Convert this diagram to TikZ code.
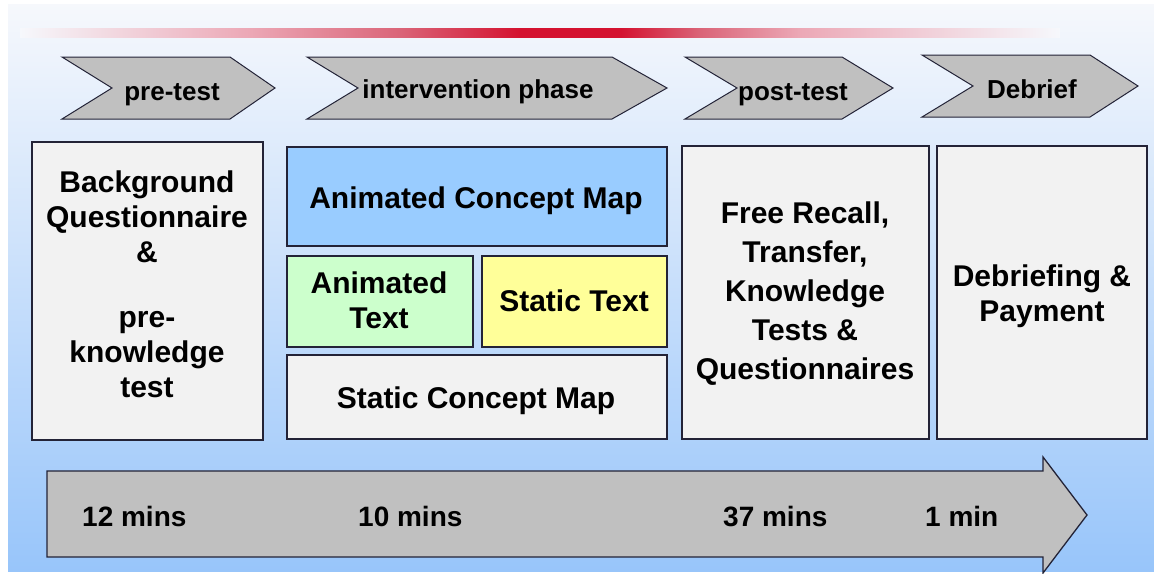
\documentclass[tikz,border=0pt]{standalone}
\usepackage{fontspec}
\setmainfont{Liberation Sans}
\definecolor{linecol}{RGB}{35,35,55}
\definecolor{chevgray}{RGB}{192,192,192}
\definecolor{boxgray}{RGB}{242,242,242}
\definecolor{mapblue}{RGB}{153,204,255}
\definecolor{textgreen}{RGB}{204,255,204}
\definecolor{textyellow}{RGB}{255,255,153}
\definecolor{bgtop}{RGB}{246,248,252}
\definecolor{bgmid}{RGB}{224,235,250}
\definecolor{bgbot}{RGB}{152,197,250}
\definecolor{barred}{RGB}{212,18,48}
\definecolor{barrose}{RGB}{218,100,120}
\definecolor{barpink}{RGB}{236,168,182}
% red rule: fades in from the left, strongest in the middle, fades out to the right
\pgfdeclarehorizontalshading{redrule}{100bp}{%
  color(0bp)=(bgtop); color(25bp)=(bgtop); color(36bp)=(barpink);
  color(43.3bp)=(barrose); color(49bp)=(barred); color(53.9bp)=(barred);
  color(57.7bp)=(barrose); color(62.5bp)=(barpink); color(75bp)=(bgtop);
  color(100bp)=(bgtop)}
\begin{document}
\begin{tikzpicture}[x=1pt,y=-1pt,
  frame/.style={draw=linecol, line width=1.3pt},
  phase/.style={fill=chevgray, draw=linecol, line width=1pt, line join=miter},
  phaselabel/.style={font=\fontsize{26}{30}\selectfont\bfseries, anchor=base, inner sep=0pt},
  boxlabel/.style={font=\fontsize{30}{35}\selectfont\bfseries, align=center, inner sep=0pt},
  timelabel/.style={font=\fontsize{28}{32}\selectfont\bfseries, anchor=base west, inner sep=0pt}]
\useasboundingbox (0,0) rectangle (1154,573);
\fill[white] (0,0) rectangle (1154,573);
% panel background
\fill[top color=bgtop, middle color=bgmid, bottom color=bgbot] (8,4) rectangle (1154,571);
% red rule across the top
\shade[shading=redrule] (20,28) rectangle (1060,37);

% phase chevrons
\draw[phase] (62,57) -- (230,57) -- (275,88) -- (230,119) -- (62,119) -- (112,88) -- cycle;
\draw[phase] (307,57) -- (612,57) -- (667,88) -- (612,119) -- (307,119) -- (358,88) -- cycle;
\draw[phase] (685,57) -- (842,57) -- (893,88) -- (842,119) -- (685,119) -- (737,88) -- cycle;
\draw[phase] (922,55) -- (1090,55) -- (1138,86) -- (1090,117) -- (922,117) -- (973,86) -- cycle;
\node[phaselabel] (pre) at (172,100) {pre-test};
\node[phaselabel] (inter) at (478,98) {intervention phase};
\node[phaselabel] (post) at (793,100) {post-test};
\node[phaselabel] (deb) at (1032,98) {Debrief};

% content boxes
\draw[frame, fill=boxgray] (32,142) rectangle (263,440);
\draw[frame, fill=mapblue] (287,147) rectangle (667,246);
\draw[frame, fill=textgreen] (287,256) rectangle (473,347);
\draw[frame, fill=textyellow] (482,256) rectangle (667,347);
\draw[frame, fill=boxgray] (287,355) rectangle (667,439);
\draw[frame, fill=boxgray] (682,146) rectangle (929,439);
\draw[frame, fill=boxgray] (937,146) rectangle (1147,439);

\node[boxlabel] (bgq) at (147,284.7) {Background\\Questionnaire\\\&\\[30pt]pre-\\knowledge\\test};
\node[boxlabel, anchor=base] (acm) at (476,208) {Animated Concept Map};
\node[boxlabel] (at) at (379,300.5) {Animated\\Text};
\node[boxlabel, anchor=base] (st) at (574,311) {Static Text};
\node[boxlabel, anchor=base] (scm) at (476,408) {Static Concept Map};
\node[boxlabel, font=\fontsize{30}{39}\selectfont\bfseries] (tests) at (805,294) {Free Recall,\\Transfer,\\Knowledge\\Tests \&\\Questionnaires};
\node[boxlabel] (pay) at (1042,296.7) {Debriefing \&\\Payment};

% time line arrow
\draw[phase, line width=1.3pt] (47,471) -- (1043,471) -- (1043,457) -- (1087,515) -- (1043,573) -- (1043,557) -- (47,557) -- cycle;
\node[timelabel] (t1) at (82,526) {12 mins};
\node[timelabel] (t2) at (358,526) {10 mins};
\node[timelabel] (t3) at (723,526) {37 mins};
\node[timelabel] (t4) at (925,526) {1 min};
\end{tikzpicture}
\end{document}
